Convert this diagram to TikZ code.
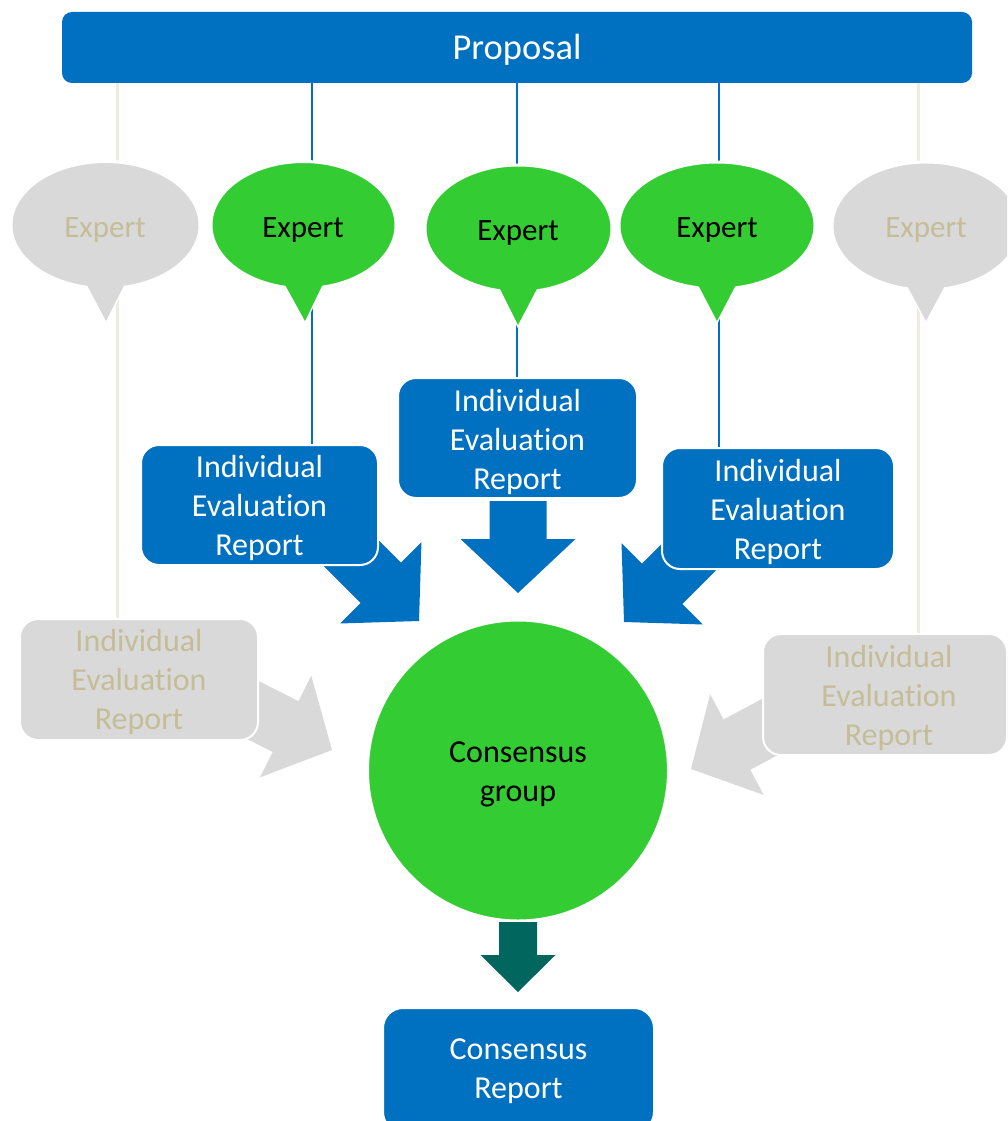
\documentclass[tikz,border=0pt]{standalone}
\usepackage{fontspec}
\setmainfont{Carlito}[Ligatures=NoCommon]
\usetikzlibrary{shapes.geometric,calc}
\definecolor{pblue}{HTML}{0070C0}
\definecolor{pgreen}{HTML}{33CC33}
\definecolor{pgray}{HTML}{D9D9D9}
\definecolor{ptan}{HTML}{C4BD97}
\definecolor{pbeige}{HTML}{EEECE1}
\definecolor{pteal}{HTML}{00665E}
\pgfdeclarelayer{bg}
\pgfsetlayers{bg,main}
% block arrow: color, tip x, tip y, angle, head length, half head width, half shaft width, total length
\newcommand\blockarr[8]{\fill[#1,shift={(#2,#3)},rotate=#4] (0,0) -- (-#5,#6) -- (-#5,#7) -- (-#8,#7) -- (-#8,-#7) -- (-#5,-#7) -- (-#5,-#6) -- cycle;}
% speech bubble: name, cx, cy, width, height, tip x, tip y, fill colour
\newcommand\mybubble[8]{%
  \filldraw[#8, draw=white, line width=3pt] ({#2-23},{#3+#5/2-12}) -- ({#2+23},{#3+#5/2-12}) -- (#6,#7) -- cycle;
  \node[bubble, fill=#8, minimum width=#4pt, minimum height=#5pt] (#1) at (#2,#3) {};
  \fill[#8] ({#2-23},{#3+#5/2-12}) -- ({#2+23},{#3+#5/2-12}) -- (#6,#7) -- cycle;}
\begin{document}
\begin{tikzpicture}[x=1pt,y=-1pt,
  txt/.style={font=\fontsize{32}{39}\selectfont, align=center, inner sep=0pt},
  bluebox/.style={fill=pblue, draw=white, line width=2pt, rounded corners=18pt, inner sep=0pt},
  graybox/.style={fill=pgray, draw=white, line width=2pt, rounded corners=18pt, inner sep=0pt},
  bluetext/.style={txt, text=white},
  graytext/.style={txt, text=ptan},
  bubble/.style={ellipse, inner sep=0pt, draw=white, line width=3pt},
  exptext/.style={txt, font=\fontsize{31}{38}\selectfont},
  blueline/.style={pblue, line width=2pt},
  beigeline/.style={pbeige, line width=3pt},
]
\useasboundingbox (0,0) rectangle (1007,1121);
\clip (0,0) rectangle (1007,1121);

% proposal bar
\node[fill=pblue, rounded corners=10pt, minimum width=910pt, minimum height=71pt] (prop) at (517,47.5) {};
\node[bluetext, font=\fontsize{36.5}{44}\selectfont] (propt) at (517,49.5) {Proposal};

% experts
\mybubble{e1}{105.5}{225}{189}{127}{106}{321}{pgray}
\mybubble{e2}{303.5}{225}{185}{127}{305}{321}{pgreen}
\mybubble{e3}{518.5}{228.5}{187}{127}{518}{325}{pgreen}
\mybubble{e4}{717}{225.5}{196}{127}{717}{321}{pgreen}
\mybubble{e5}{926}{226}{188}{128}{926}{321}{pgray}
\node[exptext, text=ptan] (t1) at (105,230) {Expert};
\node[exptext] (t2) at (303,230) {Expert};
\node[exptext] (t3) at (518,233) {Expert};
\node[exptext] (t4) at (717,230) {Expert};
\node[exptext, text=ptan] (t5) at (926,230) {Expert};

% block arrows
\blockarr{pblue}{518}{593}{-90}{54}{57.5}{28.5}{92}
\blockarr{pblue}{419}{621}{-45}{54}{57.5}{28.5}{114}
\blockarr{pblue}{624}{622}{-135}{54}{57.5}{28.5}{114}
\blockarr{pgray}{332}{750}{-26.8}{52}{57}{28.5}{112}
\blockarr{pgray}{691}{769}{-152}{52}{57}{28.5}{112}

% evaluation reports
\node[bluebox, minimum width=237pt, minimum height=120pt] (r1) at (259.5,505) {};
\node[bluetext] (r1t) at (259.5,508) {Individual\\Evaluation\\Report};
\node[bluebox, minimum width=239pt, minimum height=120pt] (r2) at (517.5,438) {};
\node[bluetext] (r2t) at (517.5,442) {Individual\\Evaluation\\Report};
\node[bluebox, minimum width=232pt, minimum height=121pt] (r3) at (778,508.5) {};
\node[bluetext] (r3t) at (778,511.5) {Individual\\Evaluation\\Report};
\node[graybox, minimum width=238pt, minimum height=121pt] (g1) at (139,679.5) {};
\node[graytext] (g1t) at (139,681.5) {Individual\\Evaluation\\Report};
\node[graybox, minimum width=244pt, minimum height=121pt] (g2) at (885,694.5) {};
\node[graytext] (g2t) at (889,697.5) {Individual\\Evaluation\\Report};

% consensus group
\node[circle, fill=pgreen, draw=white, line width=2pt, minimum size=300pt, inner sep=0pt] (cg) at (518,770.5) {};
\node[txt] (cgt) at (518,774.5) {Consensus\\group};
\blockarr{pteal}{518}{992}{-90}{37}{37.5}{19}{70}

% consensus report
\node[bluebox, minimum width=271pt, minimum height=124pt, rounded corners=20pt] (cr) at (518.5,1070) {};
\node[bluetext] (crt) at (518.5,1071.5) {Consensus\\Report};

% connecting lines behind everything
\coordinate (xa) at (117,0);
\coordinate (xb) at (312,0);
\coordinate (xc) at (517,0);
\coordinate (xd) at (719,0);
\coordinate (xe) at (918,0);
\begin{pgfonlayer}{bg}
\draw[beigeline] (prop.south -| xa) -- (g1.north -| xa);
\draw[beigeline] (prop.south -| xe) -- (g2.north -| xe);
\draw[blueline] (prop.south -| xb) -- (r1.north -| xb);
\draw[blueline] (prop.south -| xc) -- (r2.north -| xc);
\draw[blueline] (prop.south -| xd) -- (r3.north -| xd);
\end{pgfonlayer}
\end{tikzpicture}
\end{document}
